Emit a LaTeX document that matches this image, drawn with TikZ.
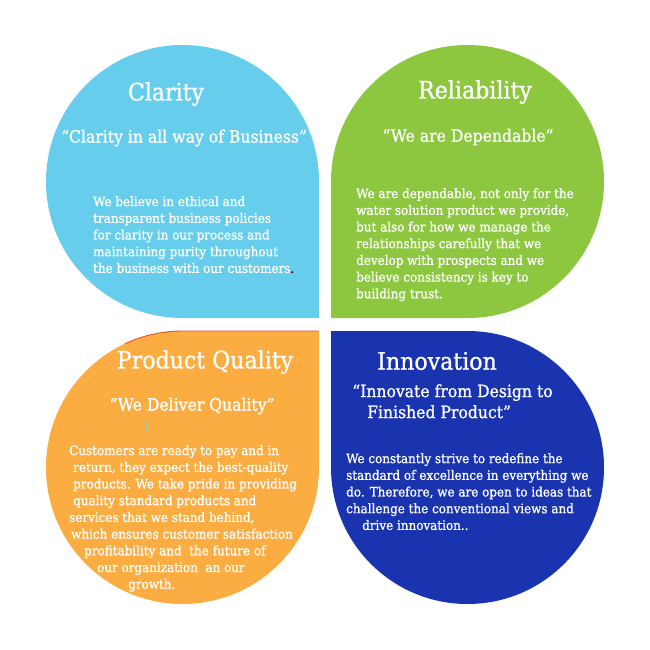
\documentclass[tikz,border=0pt]{standalone}
\usepackage{fontspec}
\newfontfamily\bree[FakeStretch=0.92,FakeBold=1]{DejaVu Serif}
\definecolor{cyanp}{HTML}{66CEEC}
\definecolor{greenp}{HTML}{8DC63F}
\definecolor{orangep}{HTML}{FBAD42}
\definecolor{bluep}{HTML}{1A33AF}
\definecolor{redline}{HTML}{E8532B}
\definecolor{markc}{HTML}{A9C9A4}
\begin{document}
\begin{tikzpicture}[x=1pt,y=-1pt,
  titletext/.style={text=white,inner sep=0pt,font=\fontsize{24}{28}\selectfont\bree},
  quotetext/.style={text=white,inner sep=0pt,font=\fontsize{17}{21}\selectfont\bree},
  bodytext/.style={text=white,inner sep=0pt,align=left,anchor=north west,font=\fontsize{13}{16.7}\selectfont\bree}]
\useasboundingbox (0,0) rectangle (650,650);
\fill[white] (0,0) rectangle (650,650);
\def\r{136.5}
% cyan petal, square corner bottom right
\fill[cyanp] (319,181.5) -- (319,318) -- (182.5,318) arc[start angle=90,end angle=360,radius=\r] -- cycle;
% green petal, square corner bottom left
\fill[greenp] (467.5,318) -- (331,318) -- (331,181.5) arc[start angle=180,end angle=450,radius=\r] -- cycle;
% orange petal, square corner top right
\fill[orangep] (182.5,331) -- (319,331) -- (319,467.5) arc[start angle=0,end angle=270,radius=\r] -- cycle;
\draw[redline,line width=0.9pt] (182.5,467.5) ++(245:\r) arc[start angle=245,end angle=270,radius=\r] -- (319,331);
% blue petal, square corner top left
\fill[bluep] (331,467.5) -- (331,331) -- (467.5,331) arc[start angle=270,end angle=540,radius=\r] -- cycle;

% texts
\node[titletext] (t1) at (166,94) {Clarity};
\node[quotetext] (q1) at (184,138) {“Clarity in all way of Business”};
\node[bodytext] (b1) at (93,196) {We believe in ethical and\\transparent business policies\\for clarity in our process and\\maintaining purity throughout\\the business with our customers\textcolor{black}{.}};

\node[titletext] (t2) at (475,92) {Reliability};
\node[quotetext] (q2) at (468,137) {“We are Dependable”};
\node[bodytext] (b2) at (356,188) {We are dependable, not only for the\\water solution product we provide,\\but also for how we manage the\\relationships carefully that we\\develop with prospects and we\\believe consistency is key to\\building trust.};

\node[titletext] (t3) at (205,362) {Product Quality};
\node[quotetext] (q3) at (192,406) {“We Deliver Quality”};
\draw[markc,line width=0.8pt] (146,421) -- (146,432);
\node[bodytext] (b3) at (69,445) {Customers are ready to pay and in\\\hspace*{4pt}return, they expect the best-quality\\\hspace*{4pt}products. We take pride in providing\\\hspace*{4pt}quality standard products and\\services that we stand behind,\\\hspace*{2pt}which ensures customer satisfaction\\\hspace*{15pt}profitability and\ \ the future of\\\hspace*{28pt}our organization\ \ an our\\\hspace*{59pt}growth.};

\node[titletext] (t4) at (437,361) {Innovation};
\node[quotetext,align=left,anchor=north west] (q4) at (352,384) {“Innovate from Design to\\\hspace*{15pt}Finished Product”};
\node[bodytext] (b4) at (346,453) {We constantly strive to redefine the\\standard of excellence in everything we\\do. Therefore, we are open to ideas that\\challenge the conventional views and\\\hspace*{16pt}drive innovation..};
\end{tikzpicture}
\end{document}
